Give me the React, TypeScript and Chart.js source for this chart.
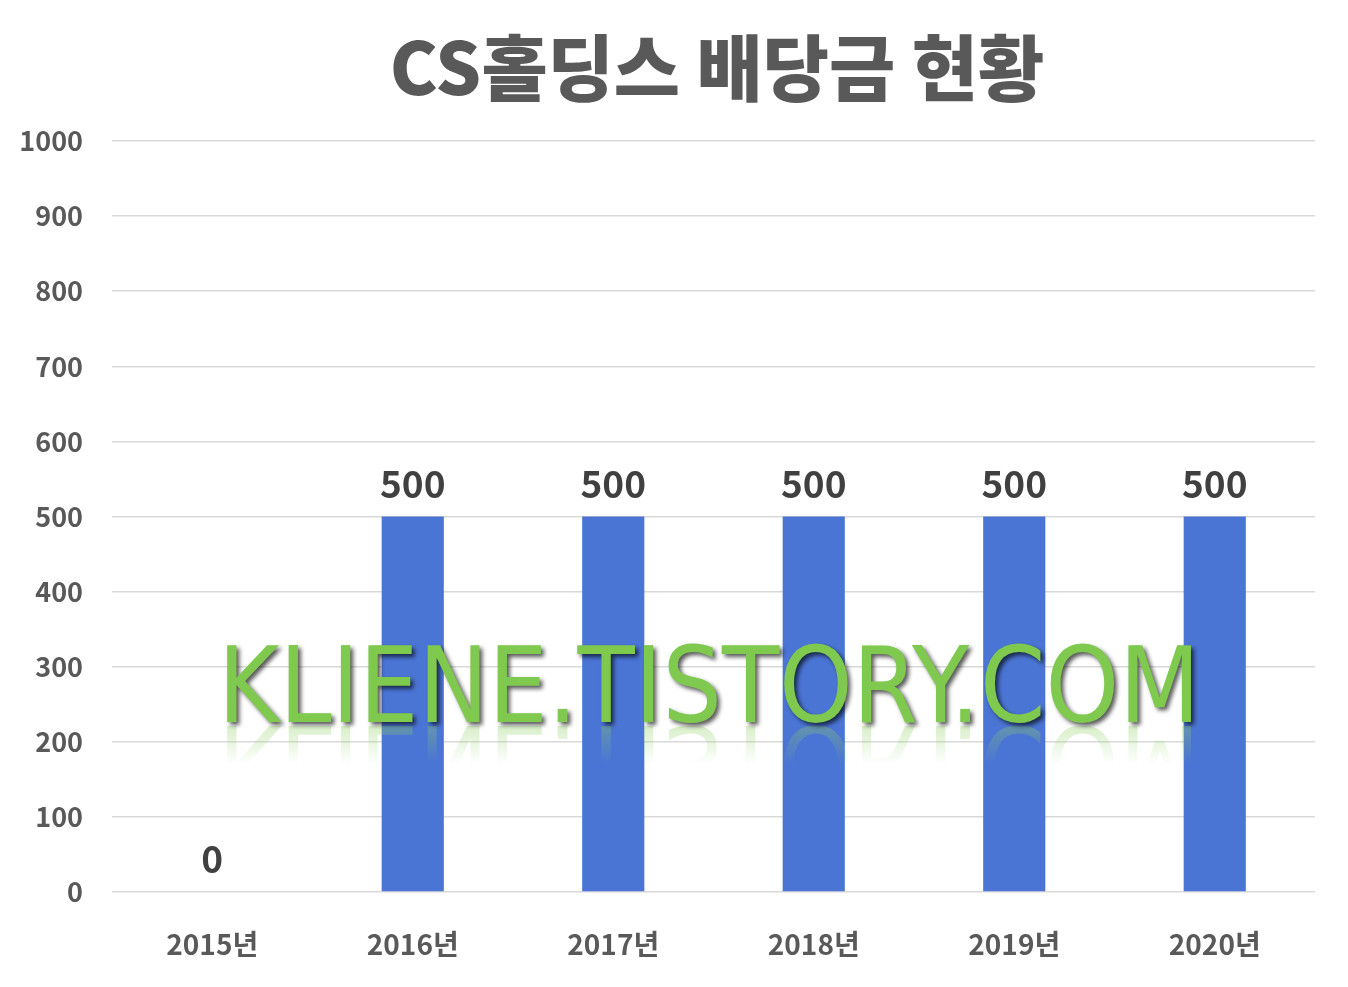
import React, { useEffect, useRef } from "react";
import { Chart, registerables } from "chart.js";

Chart.register(...registerables);

const titleText = "CS홀딩스 배당금 현황";
const categories = ["2015년", "2016년", "2017년", "2018년", "2019년", "2020년"];
const dividends = [0, 500, 500, 500, 500, 500];
const yTicks = [0, 100, 200, 300, 400, 500, 600, 700, 800, 900, 1000];
const watermarkText = "KLIENE.TISTORY.COM";

const FONT = "'Noto Sans CJK KR', 'Noto Sans', sans-serif";

const titlePlugin = {
  id: "titleDraw",
  afterDraw(chart: any) {
    const ctx = chart.ctx;
    ctx.save();
    ctx.font = `900 72px ${FONT}`;
    ctx.fillStyle = "#595959";
    ctx.textAlign = "center";
    ctx.textBaseline = "middle";
    ctx.fillText(titleText, 717, 68);
    ctx.restore();
  },
};

const labelPlugin = {
  id: "valueLabels",
  afterDatasetsDraw(chart: any) {
    const ctx = chart.ctx;
    const meta = chart.getDatasetMeta(0);
    ctx.save();
    ctx.font = `bold 37px ${FONT}`;
    ctx.fillStyle = "#404040";
    ctx.textAlign = "center";
    ctx.textBaseline = "middle";
    meta.data.forEach((bar: any, i: number) => {
      ctx.fillText(String(dividends[i]), bar.x, bar.y - 33);
    });
    ctx.restore();
  },
};

const watermarkPlugin = {
  id: "watermark",
  afterDraw(chart: any) {
    const ctx = chart.ctx;
    const left = 218;
    const right = 1200;
    const baseline = 722;
    const fontPx = 106;
    const font = `${fontPx}px 'DejaVu Sans', sans-serif`;
    ctx.save();
    ctx.font = font;
    const w = ctx.measureText(watermarkText).width;
    const sx = (right - left) / w;

    // reflection
    const off = document.createElement("canvas");
    off.width = 1348;
    off.height = 80;
    const o = off.getContext("2d")!;
    o.save();
    o.translate(left, 0);
    o.scale(sx, -1);
    o.font = font;
    o.fillStyle = "#8fcf63";
    o.textBaseline = "alphabetic";
    o.fillText(watermarkText, 0, 0);
    o.restore();
    o.globalCompositeOperation = "destination-in";
    const g = o.createLinearGradient(0, 0, 0, 38);
    g.addColorStop(0, "rgba(0,0,0,0.35)");
    g.addColorStop(1, "rgba(0,0,0,0)");
    o.fillStyle = g;
    o.fillRect(0, 0, 1348, 80);
    ctx.drawImage(off, 0, baseline + 4);

    // main text
    ctx.translate(left, baseline);
    ctx.scale(sx, 1);
    ctx.shadowColor = "rgba(0,0,0,0.65)";
    ctx.shadowOffsetX = 3;
    ctx.shadowOffsetY = 3;
    ctx.shadowBlur = 4;
    ctx.fillStyle = "#7ec94e";
    ctx.textBaseline = "alphabetic";
    ctx.fillText(watermarkText, 0, 0);
    ctx.restore();
  },
};

export default function App() {
  const ref = useRef<HTMLCanvasElement>(null);
  useEffect(() => {
    if (!ref.current) return;
    const chart = new Chart(ref.current, {
      type: "bar",
      data: {
        labels: categories,
        datasets: [
          {
            data: dividends,
            backgroundColor: "#4B75D5",
            barPercentage: 0.31,
            categoryPercentage: 1,
          },
        ],
      },
      options: {
        animation: false,
        responsive: false,
        layout: { padding: { top: 141, right: 33, bottom: 0, left: 0 } },
        plugins: { legend: { display: false }, tooltip: { enabled: false }, title: { display: false } },
        scales: {
          x: {
            grid: { display: false, drawTicks: false },
            border: { display: false },
            ticks: { font: { family: FONT, size: 28, weight: "bold" }, color: "#595959", padding: 36 },
            afterFit: (s: any) => {
              s.height = 95;
            },
          },
          y: {
            min: 0,
            max: 1000,
            afterBuildTicks: (s: any) => {
              s.ticks = yTicks.map((v) => ({ value: v }));
            },
            grid: { color: "#d9d9d9", lineWidth: 1.5, drawTicks: false },
            border: { display: false },
            ticks: {
              font: { family: FONT, size: 27, weight: "bold" },
              color: "#595959",
              padding: 29,
              callback: (v: any) => String(v),
            },
            afterFit: (s: any) => {
              s.width = 112;
            },
          },
        },
      },
      plugins: [titlePlugin, labelPlugin, watermarkPlugin],
    });
    return () => chart.destroy();
  }, []);
  return (
    <div style={{ position: "fixed", left: 0, top: 0, width: 1348, height: 987, background: "#fff" }}>
      <canvas ref={ref} width={1348} height={987} style={{ width: 1348, height: 987 }} />
    </div>
  );
}
